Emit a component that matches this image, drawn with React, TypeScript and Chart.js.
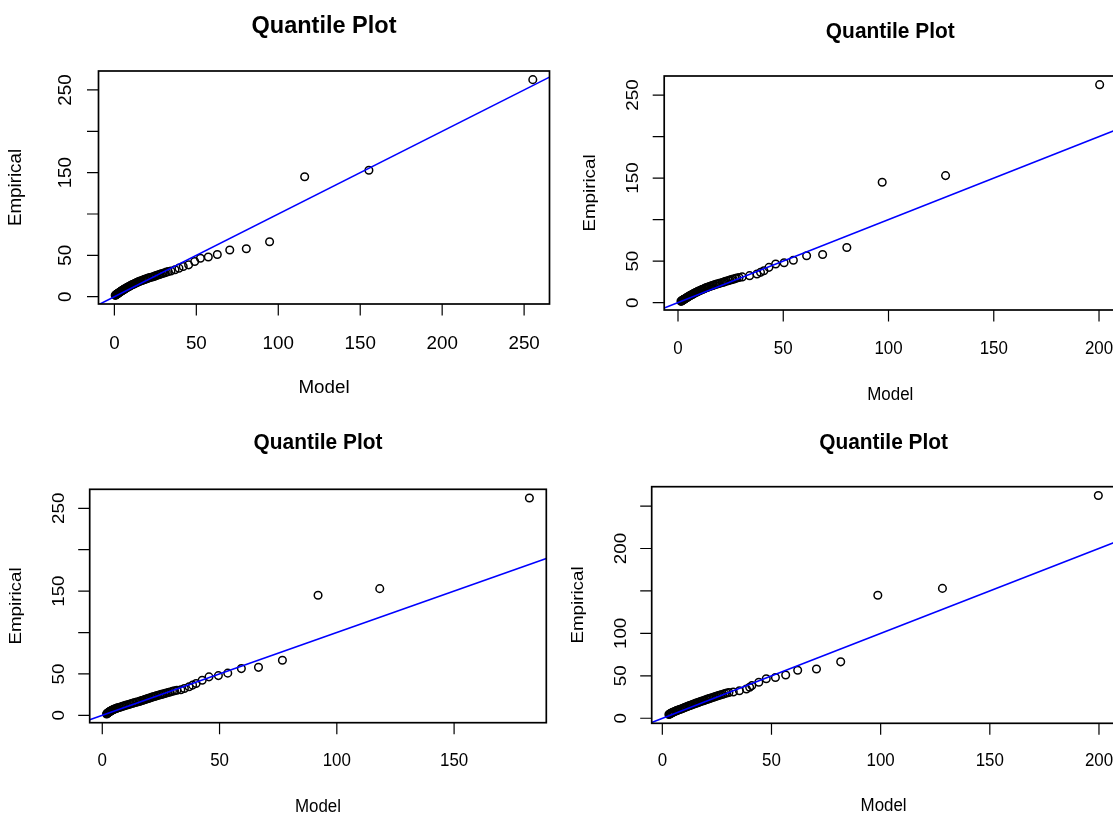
import React, { useEffect, useRef } from "react";
import { Chart, registerables } from "chart.js";

Chart.register(...registerables);

// ---- Data ----
// Sorted empirical quantiles shared by the first three fits
const empiricalQ = [
  1.6, 2.1, 2.5, 2.9, 3.3, 3.6, 4.0, 4.4, 4.9, 5.3, 5.8, 6.2, 6.7, 7.1, 7.6, 8.2, 8.7,
  9.1, 9.6, 10.2, 10.7, 11.3, 11.8, 12.4, 12.9, 13.5, 14.0, 14.6, 15.1, 15.7, 16.2, 16.8,
  17.3, 17.8, 18.3, 18.8, 19.3, 19.9, 20.4, 20.9, 21.4, 22.0, 22.5, 23.1, 23.6, 24.2, 24.8,
  25.3, 25.9, 26.5, 27.1, 27.7, 28.3, 29.0, 29.7, 30.3,
  31.0, 32.5, 34.5, 36.5, 38.5, 42.5, 46.5, 48.0, 51.0, 56.5, 58.0, 66.5, 145.0, 153.0, 262.5,
];

// Model quantiles, top-left panel
const modelQ1 = [
  0.5, 0.8, 1.1, 1.4, 1.7, 1.9, 2.2, 2.5, 2.9, 3.2, 3.6, 3.8, 4.2, 4.5, 4.9, 5.3, 5.7,
  6.1, 6.5, 7.0, 7.4, 7.9, 8.3, 8.9, 9.4, 9.9, 10.4, 11.0, 11.6, 12.2, 12.7, 13.4,
  13.9, 14.4, 15.0, 15.7, 16.4, 17.2, 17.8, 18.5, 19.2, 20.0, 20.7, 21.6, 22.5, 23.6, 24.5,
  25.1, 26.0, 27.0, 27.8, 28.7, 29.7, 30.8, 31.7, 32.9,
  34.5, 37.0, 39.4, 42.0, 45.3, 49.0, 52.5, 57.3, 62.8, 70.4, 80.5, 94.7, 116.1, 155.3, 255.3,
];

// Model quantiles, top-right panel
const modelQ2 = [
  1.4, 1.7, 1.9, 2.2, 2.4, 2.6, 2.9, 3.1, 3.5, 3.7, 4.1, 4.2, 4.6, 4.8, 5.2, 5.5, 5.8,
  6.2, 6.5, 7.0, 7.3, 7.7, 8.1, 8.6, 9.0, 9.4, 9.8, 10.4, 10.9, 11.4, 11.8, 12.4,
  12.8, 13.2, 13.8, 14.3, 14.9, 15.6, 16.1, 16.7, 17.3, 18.0, 18.6, 19.4, 20.1, 21.1, 21.8,
  22.3, 23.1, 24.0, 24.6, 25.4, 26.2, 27.2, 27.9, 29.0,
  30.5, 34.0, 37.5, 39.2, 40.8, 43.2, 46.4, 50.4, 54.8, 61.1, 68.7, 80.2, 97.0, 127.1, 200.3,
];

// Model quantiles, bottom-left panel
const modelQ3 = [
  1.85, 2.0, 2.2, 2.35, 2.55, 2.7, 2.9, 3.1, 3.35, 3.6, 3.9, 4.15, 4.5, 4.8, 5.2, 5.7, 6.2,
  6.6, 7.2, 7.8, 8.4, 9.0, 9.6, 10.3, 10.9, 11.6, 12.2, 12.9, 13.5, 14.3, 14.9, 15.7,
  16.2, 16.8, 17.3, 17.9, 18.4, 19.1, 19.6, 20.1, 20.7, 21.3, 21.8, 22.5, 23.1, 23.8, 24.6,
  25.2, 25.9, 26.6, 27.3, 28.1, 28.9, 29.9, 30.8, 31.8,
  33.5, 35.0, 37.0, 38.5, 40.0, 42.6, 45.5, 49.5, 53.5, 59.3, 66.6, 76.8, 92.0, 118.3, 182.1,
];

// Bottom-right panel: empirical and model quantiles
const empiricalQ4 = [
  4.4, 4.9, 5.3, 5.8, 6.2, 6.7, 7.1, 7.6, 8.2, 8.7,
  9.1, 9.6, 10.2, 10.7, 11.3, 11.8, 12.4, 12.9, 13.5, 14.0, 14.6, 15.1, 15.7, 16.2, 16.8,
  17.3, 17.8, 18.3, 18.8, 19.3, 19.9, 20.4, 20.9, 21.4, 22.0, 22.5, 23.1, 23.6, 24.2, 24.8,
  25.3, 25.9, 26.5, 27.1, 27.7, 28.3, 29.0, 29.7, 30.3,
  31.0, 32.5, 34.5, 36.5, 38.5, 42.5, 46.5, 48.0, 51.0, 56.5, 58.0, 66.5, 145.0, 153.0, 262.5,
];
const modelQ4 = [
  3.0, 3.3, 3.6, 3.9, 4.2, 4.6, 4.9, 5.3, 5.9, 6.3,
  6.7, 7.2, 7.8, 8.3, 8.9, 9.4, 10.0, 10.5, 11.1, 11.6, 12.2, 12.7, 13.3, 13.8, 14.4,
  15.0, 15.5, 16.1, 16.6, 17.2, 17.8, 18.4, 19.0, 19.5, 20.2, 20.7, 21.4, 22.0, 22.6, 23.4,
  24.0, 24.7, 25.4, 26.1, 26.9, 27.7, 28.6, 29.5, 30.5,
  32.5, 35.3, 38.5, 40.0, 41.0, 44.2, 47.6, 51.8, 56.5, 62.0, 70.6, 81.7, 98.7, 128.3, 199.7,
];

// Ticks and labels
const xTicks1 = [0, 50, 100, 150, 200, 250];
const xTicks2 = [0, 50, 100, 150, 200];
const xTicks3 = [0, 50, 100, 150];
const xTicks4 = [0, 50, 100, 150, 200];
const yTicks = [0, 50, 100, 150, 200, 250];
const yLabelsA = [0, 50, 150, 250];
const yLabelsB = [0, 50, 100, 200];

const chartTitle = "Quantile Plot";
const xTitle = "Model";
const yTitle = "Empirical";

// ---- Layout (pixels) ----
const panels = [
  {
    model: modelQ1, emp: empiricalQ, xTicks: xTicks1, yLabels: yLabelsA,
    canvas: { left: 0, top: 0, width: 556, height: 407 },
    box: { left: 98.5, top: 71, right: 549.5, bottom: 304 },
    text: { title: 44, xLab: 39.8, xTitle: 84.3, yLab: 32.9, yTitle: 82.4 },
    font: { title: 23.5, titleSx: 1, label: 18.8, sx: 1 },
  },
  {
    model: modelQ2, emp: empiricalQ, xTicks: xTicks2, yLabels: yLabelsA,
    canvas: { left: 556, top: 0, width: 570, height: 407 },
    box: { left: 664.2, top: 76, right: 1116.4, bottom: 310 },
    text: { title: 44.3, xLab: 39, xTitle: 85, yLab: 30.7, yTitle: 73.6 },
    font: { title: 22, titleSx: 0.95, label: 18.8, sx: 0.9 },
  },
  {
    model: modelQ3, emp: empiricalQ, xTicks: xTicks3, yLabels: yLabelsA,
    canvas: { left: 0, top: 407, width: 556, height: 408 },
    box: { left: 89.7, top: 489.3, right: 546.3, bottom: 722.7 },
    text: { title: 46, xLab: 38.3, xTitle: 84, yLab: 30.5, yTitle: 73.5 },
    font: { title: 22, titleSx: 0.95, label: 18.8, sx: 0.9 },
  },
  {
    model: modelQ4, emp: empiricalQ4, xTicks: xTicks4, yLabels: yLabelsB,
    canvas: { left: 556, top: 407, width: 570, height: 408 },
    box: { left: 651.7, top: 486.7, right: 1115.5, bottom: 723.3 },
    text: { title: 43.4, xLab: 37.7, xTitle: 82.7, yLab: 30.3, yTitle: 73.6 },
    font: { title: 22, titleSx: 0.95, label: 18.8, sx: 0.9 },
  },
];

const TICK = 11.5;
const FONT_FAMILY = '"Liberation Sans", Arial, Helvetica, sans-serif';

// R-style axis range: data range extended by 4% on each side
function rRange(values: number[]): [number, number] {
  const lo = Math.min(...values);
  const hi = Math.max(...values);
  const pad = (hi - lo) * 0.04;
  return [lo - pad, hi + pad];
}

function drawText(ctx: CanvasRenderingContext2D, text: string, x: number, y: number,
  font: string, sx: number, rotate: boolean) {
  ctx.save();
  ctx.translate(x, y);
  ctx.scale(sx, 1);
  if (rotate) ctx.rotate(-Math.PI / 2);
  ctx.font = font;
  ctx.textAlign = "center";
  ctx.textBaseline = "middle";
  ctx.fillStyle = "#000";
  ctx.fillText(text, 0, 0);
  ctx.restore();
}

function makeAxesPlugin(p: any) {
  return {
    id: "rStyleAxes",
    afterDraw(chart: any) {
      const { ctx, chartArea: a } = chart;
      const xs = chart.scales.x;
      const ys = chart.scales.y;
      const f = p.font;
      ctx.save();
      ctx.strokeStyle = "#000";
      ctx.lineWidth = 1.7;
      ctx.strokeRect(a.left, a.top, a.right - a.left, a.bottom - a.top);
      ctx.lineWidth = 1.2;
      ctx.beginPath();
      p.xTicks.forEach((v: number) => {
        const px = xs.getPixelForValue(v);
        ctx.moveTo(px, a.bottom);
        ctx.lineTo(px, a.bottom + TICK);
      });
      yTicks.forEach((v: number) => {
        const py = ys.getPixelForValue(v);
        if (py < a.top - 0.5) return;
        ctx.moveTo(a.left, py);
        ctx.lineTo(a.left - TICK, py);
      });
      ctx.stroke();
      ctx.restore();

      const labelFont = `${f.label}px ${FONT_FAMILY}`;
      p.xTicks.forEach((v: number) =>
        drawText(ctx, String(v), xs.getPixelForValue(v), a.bottom + p.text.xLab, labelFont, f.sx, false));
      p.yLabels.forEach((v: number) =>
        drawText(ctx, String(v), a.left - p.text.yLab, ys.getPixelForValue(v), labelFont, f.sx, true));
      const cx = (a.left + a.right) / 2;
      const cy = (a.top + a.bottom) / 2;
      drawText(ctx, chartTitle, cx, a.top - p.text.title, `bold ${f.title}px ${FONT_FAMILY}`, f.titleSx, false);
      drawText(ctx, xTitle, cx, a.bottom + p.text.xTitle, labelFont, f.sx, false);
      drawText(ctx, yTitle, a.left - p.text.yTitle, cy, labelFont, f.sx, true);
    },
  };
}

function Panel({ p }: { p: any }) {
  const ref = useRef<HTMLCanvasElement | null>(null);
  useEffect(() => {
    const canvas = ref.current;
    if (!canvas) return;
    const [x0, x1] = rRange(p.model);
    const [y0, y1] = rRange(p.emp);
    const points = p.model.map((m: number, i: number) => ({ x: m, y: p.emp[i] }));
    const c = p.canvas;
    const b = p.box;
    const chart = new Chart(canvas, {
      type: "scatter",
      data: {
        datasets: [
          {
            type: "line",
            label: "y = x",
            data: [{ x: x0, y: x0 }, { x: x1, y: x1 }],
            borderColor: "#0000ff",
            borderWidth: 1.6,
            pointRadius: 0,
            fill: false,
            tension: 0,
            clip: 0,
          },
          {
            type: "scatter",
            label: "Quantiles",
            data: points,
            pointStyle: "circle",
            pointRadius: 3.8,
            pointBorderWidth: 1.5,
            pointBorderColor: "#000",
            pointBackgroundColor: "rgba(0,0,0,0)",
            borderColor: "#000",
            backgroundColor: "rgba(0,0,0,0)",
          },
        ],
      } as any,
      options: {
        responsive: false,
        maintainAspectRatio: false,
        animation: false,
        devicePixelRatio: 1,
        events: [],
        layout: {
          padding: {
            left: b.left - c.left,
            top: b.top - c.top,
            right: c.width - (b.right - c.left),
            bottom: c.height - (b.bottom - c.top),
          },
        },
        scales: {
          x: { type: "linear", min: x0, max: x1, display: false },
          y: { type: "linear", min: y0, max: y1, display: false },
        },
        plugins: {
          legend: { display: false },
          tooltip: { enabled: false },
          title: { display: false },
        },
      } as any,
      plugins: [makeAxesPlugin(p)],
    });
    return () => chart.destroy();
  }, [p]);
  return (
    <canvas
      ref={ref}
      width={p.canvas.width}
      height={p.canvas.height}
      style={{
        position: "absolute",
        left: p.canvas.left,
        top: p.canvas.top,
        width: p.canvas.width,
        height: p.canvas.height,
      }}
    />
  );
}

export default function App() {
  return (
    <div
      style={{
        position: "absolute",
        left: 0,
        top: 0,
        width: 1113,
        height: 815,
        overflow: "hidden",
        background: "#ffffff",
      }}
    >
      {panels.map((p, i) => (
        <Panel key={i} p={p} />
      ))}
    </div>
  );
}
